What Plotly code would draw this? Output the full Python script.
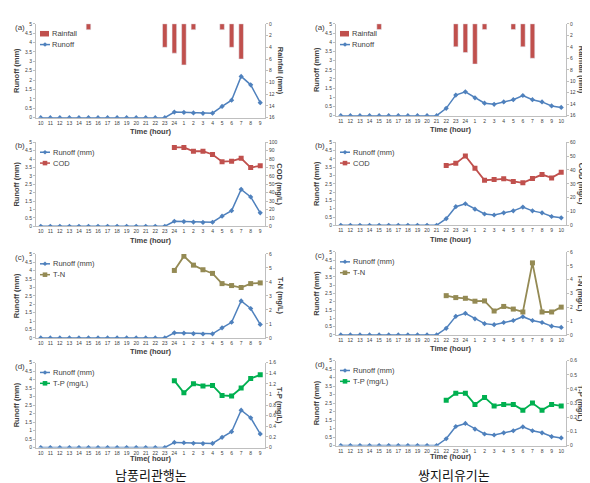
import plotly.graph_objects as go

# ---------------- data ----------------
hours_left = ["10", "11", "12", "13", "14", "15", "16", "17", "18", "19", "20", "21", "22", "23",
              "24", "1", "2", "3", "4", "5", "6", "7", "8", "9"]
hours_right = ["11", "12", "13", "14", "15", "16", "17", "18", "19", "20", "21", "22", "23",
               "24", "1", "2", "3", "4", "5", "6", "7", "8", "9", "10"]

runoff_left = [0, 0, 0, 0, 0, 0, 0, 0, 0, 0, 0, 0, 0, 0,
               0.30, 0.28, 0.25, 0.23, 0.24, 0.60, 0.93, 2.20, 1.75, 0.80]
runoff_right = [0, 0, 0, 0, 0, 0, 0, 0, 0, 0, 0,
                0.40, 1.12, 1.30, 0.97, 0.68, 0.62, 0.75, 0.87, 1.10, 0.87, 0.75, 0.53, 0.45]

rain_left = [None, None, None, None, None, 1, None, None, None, None, None, None, None, 4,
             5, 7, 1, None, None, 1, 4, 6, None, None]
rain_right = [None, None, None, None, 1, None, None, None, None, None, None, None, 4,
              5, 7, 1, None, None, 1, 4, 6, None, None, None]

cod_left = [None, None, None, None, None, None, None, None, None, None, None, None, None, None,
            94, 94, 89.4, 89.4, 85.5, 77, 77.6, 81, 70, 72]
cod_right = [None, None, None, None, None, None, None, None, None, None, None,
             43.3, 44.8, 50.2, 41.2, 32.6, 33.1, 33.6, 31.7, 30.7, 33.8, 36.7, 34.3, 38.3]

tn_left = [None, None, None, None, None, None, None, None, None, None, None, None, None, None,
           4.82, 5.84, 5.2, 4.87, 4.61, 3.88, 3.74, 3.6, 3.88, 3.93]
tn_right = [None, None, None, None, None, None, None, None, None, None, None,
            2.84, 2.7, 2.65, 2.44, 2.46, 1.73, 2.06, 1.87, 1.66, 5.21, 1.66, 1.66, 2.01]

tp_left = [None, None, None, None, None, None, None, None, None, None, None, None, None, None,
           1.26, 1.03, 1.2, 1.16, 1.17, 0.98, 0.97, 1.12, 1.3, 1.37]
tp_right = [None, None, None, None, None, None, None, None, None, None, None,
            0.32, 0.37, 0.37, 0.29, 0.34, 0.28, 0.29, 0.29, 0.25, 0.30, 0.25, 0.29, 0.28]

site_labels = ["남풍리관행논", "쌍지리유기논"]
panel_tags = ["(a)", "(b)", "(c)", "(d)"]

# ---------------- styling ----------------
W, H = 590, 483
BLUE = "#4F81BD"
RED = "#C0504D"
OLIVE = "#948A54"
GREEN = "#00B050"
AXC = "#BFBFBF"
TXT = "#404040"
FONT = "Liberation Sans, Arial, sans-serif"


def fx(p):
    return p / W


def fy(p):
    return 1 - p / H


# pixel boxes (x0, x1, ytop, ybottom)
boxes = {
    ("L", 0): (28, 257, 13, 108), ("R", 0): (328, 558, 13, 106),
    ("L", 1): (28, 257, 133, 218), ("R", 1): (328, 558, 133, 217),
    ("L", 2): (28, 257, 246, 331), ("R", 2): (328, 558, 244, 328),
    ("L", 3): (28, 257, 356, 442), ("R", 3): (328, 558, 354, 440),
}

fig = go.Figure()
layout = dict(width=W, height=H, autosize=False,
              margin=dict(l=0, r=0, t=0, b=0),
              paper_bgcolor="white", plot_bgcolor="white",
              font=dict(family=FONT, color=TXT), showlegend=False)
annotations = []
shapes = []


def legend_line(xl, yc, color, marker):
    """legend swatch: short line with a marker, in pixel coords"""
    shapes.append(dict(type="line", xref="paper", yref="paper",
                       x0=fx(xl), x1=fx(xl + 10), y0=fy(yc), y1=fy(yc),
                       line=dict(color=color, width=1.5)))
    cx = xl + 5
    if marker == "diamond":
        path = (f"M {fx(cx)} {fy(yc - 2.3)} L {fx(cx + 2.3)} {fy(yc)} "
                f"L {fx(cx)} {fy(yc + 2.3)} L {fx(cx - 2.3)} {fy(yc)} Z")
        shapes.append(dict(type="path", xref="paper", yref="paper", path=path,
                           fillcolor=color, line=dict(color=color, width=0)))
    else:
        shapes.append(dict(type="rect", xref="paper", yref="paper",
                           x0=fx(cx - 2.3), x1=fx(cx + 2.3), y0=fy(yc - 2.3), y1=fy(yc + 2.3),
                           fillcolor=color, line=dict(color=color, width=0)))


def legend_bar(xl, yc, color):
    shapes.append(dict(type="rect", xref="paper", yref="paper",
                       x0=fx(xl), x1=fx(xl + 9), y0=fy(yc - 2.8), y1=fy(yc + 2.8),
                       fillcolor=color, line=dict(color=color, width=0)))


def legend_text(xl, yc, text):
    annotations.append(dict(text=text, showarrow=False, xref="paper", yref="paper",
                            x=fx(xl), y=fy(yc), xanchor="left", yanchor="middle",
                            font=dict(size=7.5, color=TXT)))


idx = 0
for row in range(4):
    for col in ["L", "R"]:
        idx += 1
        x0, x1, yt, yb = boxes[(col, row)]
        hours = hours_left if col == "L" else hours_right
        runoff = runoff_left if col == "L" else runoff_right
        xa = "x" if idx == 1 else f"x{idx}"
        ya = "y" if idx == 1 else f"y{idx}"
        ya2 = f"y{idx + 8}"
        lx = x0 + 4
        ly1, ly2 = yt + 10, yt + 21

        if row == 0:
            rain = rain_left if col == "L" else rain_right
            fig.add_trace(go.Bar(x=hours, y=rain, name="Rainfall", marker_color=RED,
                                 width=0.48, xaxis=xa, yaxis=ya2))
            fig.add_trace(go.Scatter(x=hours, y=runoff, name="Runoff", mode="lines+markers",
                                     line=dict(color=BLUE, width=1.5),
                                     marker=dict(symbol="diamond", size=4, color=BLUE),
                                     xaxis=xa, yaxis=ya))
            rng2, dt2, t2 = [16, 0], 2, "Rainfall (mm)"
            legend_bar(lx, ly1, RED)
            legend_text(lx + 10, ly1, "Rainfall")
            legend_line(lx, ly2, BLUE, "diamond")
            legend_text(lx + 10, ly2, "Runoff")
        else:
            fig.add_trace(go.Scatter(x=hours, y=runoff, name="Runoff (mm)", mode="lines+markers",
                                     line=dict(color=BLUE, width=1.5),
                                     marker=dict(symbol="diamond", size=4, color=BLUE),
                                     xaxis=xa, yaxis=ya))
            if row == 1:
                vals = cod_left if col == "L" else cod_right
                nm, c = "COD", RED
                rng2, dt2 = ([0, 100], 10) if col == "L" else ([0, 60], 10)
                t2 = "COD (mg/L)"
            elif row == 2:
                vals = tn_left if col == "L" else tn_right
                nm, c = "T-N", OLIVE
                rng2, dt2 = [0, 6], 1
                t2 = "T-N (mg/L)"
            else:
                vals = tp_left if col == "L" else tp_right
                nm, c = "T-P (mg/L)", GREEN
                rng2, dt2 = ([0, 1.6], 0.2) if col == "L" else ([0, 0.6], 0.1)
                t2 = "T-P (mg/L)"
            fig.add_trace(go.Scatter(x=hours, y=vals, name=nm, mode="lines+markers",
                                     line=dict(color=c, width=1.8),
                                     marker=dict(symbol="square", size=5, color=c),
                                     connectgaps=False,
                                     xaxis=xa, yaxis=ya2))
            legend_line(lx, ly1, BLUE, "diamond")
            legend_text(lx + 11, ly1, "Runoff (mm)")
            legend_line(lx, ly2, c, "square")
            legend_text(lx + 11, ly2, nm)

        dom_x = [fx(x0), fx(x1)]
        dom_y = [fy(yb), fy(yt)]
        xtitle = "Time( hour)" if (col == "L" and row == 3) else "Time (hour)"
        layout["xaxis" if idx == 1 else f"xaxis{idx}"] = dict(
            domain=dom_x, anchor=ya, type="category", categoryorder="array",
            categoryarray=hours, range=[-0.5, 23.5],
            showline=True, linecolor=AXC, linewidth=1, ticks="",
            tickfont=dict(size=5, color=TXT), showgrid=False, tickangle=0)
        layout["yaxis" if idx == 1 else f"yaxis{idx}"] = dict(
            domain=dom_y, anchor=xa, range=[0, 5], dtick=0.5, tick0=0,
            showline=True, linecolor=AXC, linewidth=1, ticks="outside", ticklen=2,
            tickcolor=AXC, tickfont=dict(size=5, color=TXT), showgrid=False, zeroline=False,
            title=dict(text="<b>Runoff (mm)</b>", font=dict(size=7.5, color=TXT), standoff=4))
        layout[f"yaxis{idx + 8}"] = dict(
            overlaying=ya, anchor=xa, side="right", range=rng2, dtick=dt2, tick0=0,
            showline=True, linecolor=AXC, linewidth=1, ticks="outside", ticklen=2,
            tickcolor=AXC, tickfont=dict(size=5, color=TXT), showgrid=False, zeroline=False)
        # x axis title
        annotations.append(dict(text=f"<b>{xtitle}</b>", showarrow=False,
                                xref="paper", yref="paper",
                                x=fx((x0 + x1) / 2), y=fy(yb + (11 if row == 3 else 14)),
                                xanchor="center", yanchor="middle",
                                font=dict(size=7.5, color=TXT)))
        # right axis title (reads top-to-bottom)
        annotations.append(dict(text=f"<b>{t2}</b>", textangle=90, showarrow=False,
                                xref="paper", yref="paper",
                                x=fx(x1 + 15), y=fy((yt + yb) / 2),
                                xanchor="center", yanchor="middle",
                                font=dict(size=7.5, color=TXT)))
        # panel tag
        annotations.append(dict(text=panel_tags[row], showarrow=False, xref="paper", yref="paper",
                                x=fx(x0 - 23), y=fy(yt - 3), xanchor="left", yanchor="top",
                                font=dict(size=8, color=TXT)))

# bottom site labels
for i, lab in enumerate(site_labels):
    cx = 143 if i == 0 else 446
    annotations.append(dict(text=lab, showarrow=False, xref="paper", yref="paper",
                            x=fx(cx), y=fy(469), xanchor="center", yanchor="middle",
                            font=dict(size=13, color="#111111",
                                      family="Noto Sans CJK KR, sans-serif")))

layout["annotations"] = annotations
layout["shapes"] = shapes
fig.update_layout(**layout)
fig.write_html("out.html")
